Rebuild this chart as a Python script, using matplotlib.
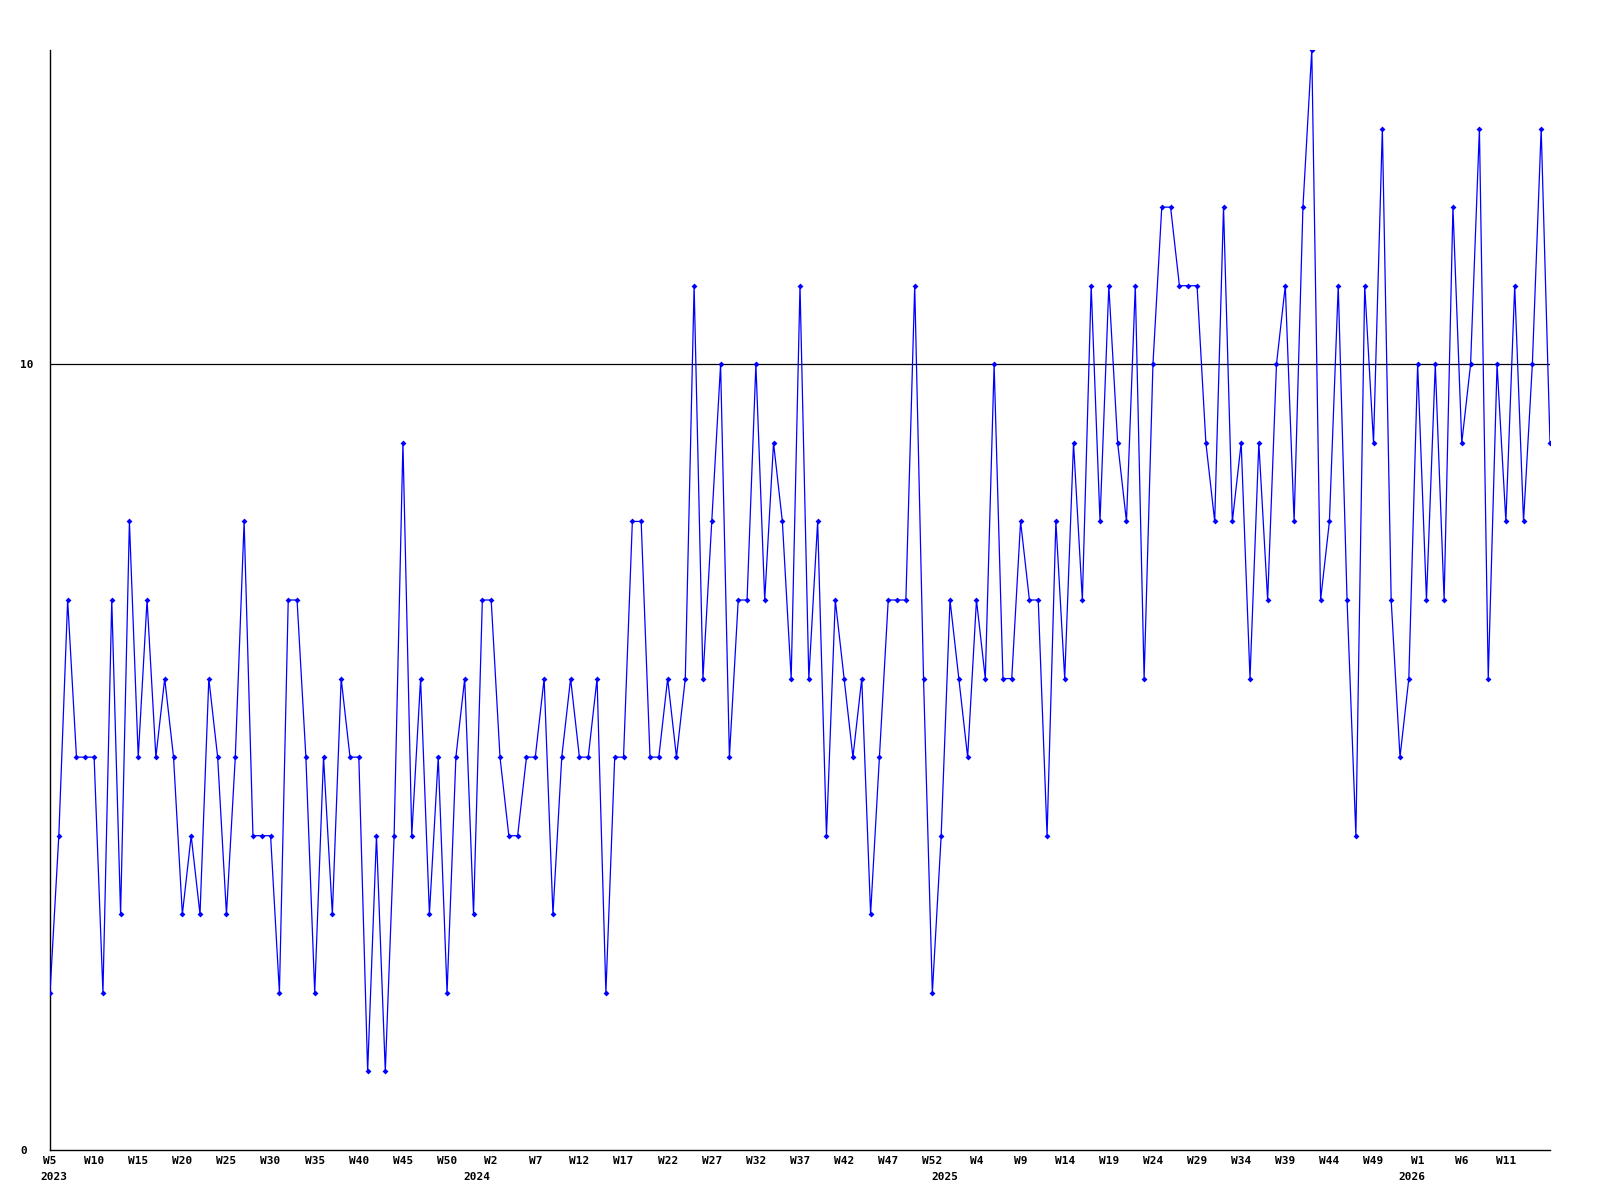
import matplotlib
matplotlib.use("Agg")
import matplotlib.pyplot as plt
import matplotlib.transforms as mtransforms

# weekly values, W5 2023 .. W15 2026
values = [
    2, 4, 7, 5, 5, 5, 2, 7, 3, 8, 5, 7, 5, 6, 5, 3, 4, 3, 6, 5,
    3, 5, 8, 4, 4, 4, 2, 7, 7, 5, 2, 5, 3, 6, 5, 5, 1, 4, 1, 4,
    9, 4, 6, 3, 5, 2, 5, 6, 3, 7, 7, 5, 4, 4, 5, 5, 6, 3, 5, 6,
    5, 5, 6, 2, 5, 5, 8, 8, 5, 5, 6, 5, 6, 11, 6, 8, 10, 5, 7, 7,
    10, 7, 9, 8, 6, 11, 6, 8, 4, 7, 6, 5, 6, 3, 5, 7, 7, 7, 11, 6,
    2, 4, 7, 6, 5, 7, 6, 10, 6, 6, 8, 7, 7, 4, 8, 6, 9, 7, 11, 8,
    11, 9, 8, 11, 6, 10, 12, 12, 11, 11, 11, 9, 8, 12, 8, 9, 6, 9, 7, 10,
    11, 8, 12, 14, 7, 8, 11, 7, 4, 11, 9, 13, 7, 5, 6, 10, 7, 10, 7, 12,
    9, 10, 13, 6, 10, 8, 11, 8, 10, 13, 9,
]

week_labels = [
    "W5", "W10", "W15", "W20", "W25", "W30", "W35", "W40", "W45", "W50",
    "W2", "W7", "W12", "W17", "W22", "W27", "W32", "W37", "W42", "W47", "W52",
    "W4", "W9", "W14", "W19", "W24", "W29", "W34", "W39", "W44", "W49",
    "W1", "W6", "W11",
]
years = ["2023", "2024", "2025", "2026"]
year_first_point = [0, 48, 101, 154]
y_ticks = [0, 10]

font = "DejaVu Sans Mono"
fsize = 8

fig = plt.figure(figsize=(16, 12), dpi=100)
ax = fig.add_axes([50 / 1600, 50 / 1200, 1500 / 1600, 1100 / 1200])

x = list(range(len(values)))
ax.plot(x, values, color="#0000ff", linewidth=0.9, marker="D",
        markersize=3, markeredgewidth=0, zorder=3)

ax.set_xlim(0, len(values) - 1)
ax.set_ylim(0, 14)

for s in ["top", "right"]:
    ax.spines[s].set_visible(False)
for s in ["left", "bottom"]:
    ax.spines[s].set_color("black")
    ax.spines[s].set_linewidth(1.0)

# reference line at 10
ax.axhline(10, color="black", linewidth=0.9, zorder=2)

ax.set_yticks(y_ticks)
ax.set_yticklabels([str(v) for v in y_ticks], fontsize=fsize,
                   fontweight="bold", family=font)
ax.tick_params(axis="y", length=0, pad=21.6)
plt.setp(ax.get_yticklabels(), ha="left")

# a week label on every fifth point
ax.set_xticks(x[::5][:len(week_labels)])
ax.set_xticklabels(week_labels, fontsize=fsize, fontweight="bold",
                   family=font)
ax.tick_params(axis="x", length=0, pad=4)

# year labels under the week labels
trans = mtransforms.blended_transform_factory(ax.transData, fig.transFigure)
for yr, pos in zip(years, year_first_point):
    ax.text(pos + 0.4, 1 - 1177 / 1200, yr, transform=trans, ha="center",
            va="center", fontsize=fsize, fontweight="bold", family=font)

fig.savefig("out.png", dpi=100)
